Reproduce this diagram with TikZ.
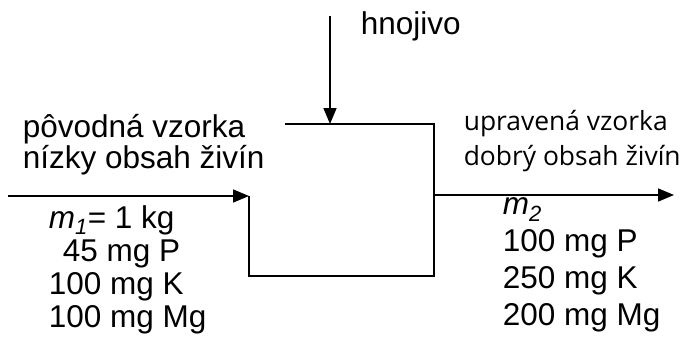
\documentclass[tikz,border=0pt]{standalone}
\usepackage{fontspec}
\setmainfont{Liberation Sans}
\newfontfamily\opensans{Open Sans}
\usetikzlibrary{arrows.meta}

\begin{document}
\begin{tikzpicture}[x=1pt, y=-1pt, line width=1.6pt,
  flow/.style={-{Triangle[length=16pt,width=13pt]}},
  label/.style={inner sep=0pt, anchor=base west, align=left,
    font=\fontsize{31.5}{31}\selectfont},
  stream/.style={label, font=\fontsize{31.5}{33}\selectfont},
  result/.style={label, font=\fontsize{31.5}{36.7}\selectfont},
  product/.style={label, font=\opensans\fontsize{26.4}{35}\selectfont}]
  \useasboundingbox (0,0) rectangle (692,345);

  % open box: the top left corner is left out
  \coordinate (box-in)  at (249,196);
  \coordinate (box-top) at (330,124);
  \coordinate (box-out) at (434,195);
  \draw (285,124) -- (434,124) -- (434,276) -- (249,276) -- (box-in);

  \coordinate (feed)   at (330,16);
  \coordinate (source) at (8,196);
  \coordinate (sink)   at (674,195);
  \draw[flow] (source) -- (box-in);
  \draw[flow] (feed) -- (box-top);
  \draw[flow] (box-out) -- (sink);

  % multi-line nodes sit on the baseline of their last line
  \node[label] (fertilizer) at (360,35) {hnojivo};
  \node[label] (raw) at (22,168) {pôvodná vzorka\\nízky obsah živín};
  \node[stream] (raw-data) at (48,327)
    {\textit{m\textsubscript{1}}= 1 kg\\\hspace{14pt}45 mg P\\100 mg K\\100 mg Mg};
  \node[product] (treated) at (463,165) {upravená vzorka\\dobrý obsah živín};
  \node[result] (treated-data) at (502,325)
    {\textit{m\textsubscript{2}}\\100 mg P\\250 mg K\\200 mg Mg};
\end{tikzpicture}
\end{document}
